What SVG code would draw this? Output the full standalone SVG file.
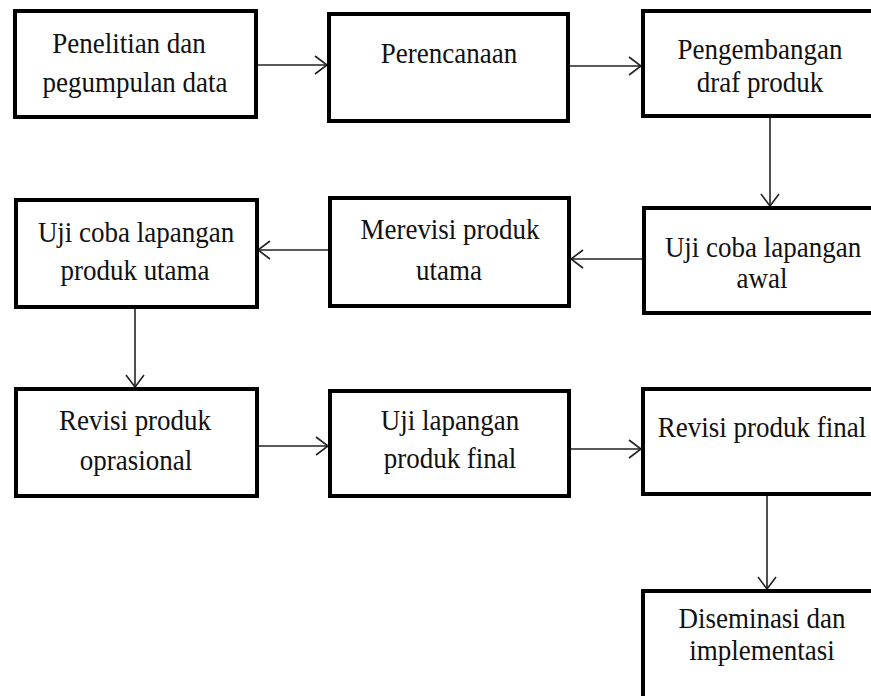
<svg xmlns="http://www.w3.org/2000/svg" width="871" height="696" viewBox="0 0 871 696">
<defs>
<style>
.box{fill:#fff;stroke:#000;stroke-width:4}
.t{font-family:"Liberation Serif","Times New Roman",serif;font-size:30px;fill:#111;text-anchor:middle}
.c{fill:none;stroke:#222;stroke-width:1.6}
</style>
<marker id="ah" viewBox="0 0 14 20" refX="13" refY="10" markerWidth="14" markerHeight="20" markerUnits="userSpaceOnUse" orient="auto">
<path d="M1,1 L13,10 L1,19" fill="none" stroke="#222" stroke-width="1.6"/>
</marker>
</defs>
<rect width="871" height="696" fill="#fff"/>
<g id="connectors">
<line class="c" x1="257" y1="65" x2="327" y2="65" marker-end="url(#ah)"/>
<line class="c" x1="570" y1="66" x2="641" y2="66" marker-end="url(#ah)"/>
<line class="c" x1="770" y1="117" x2="770" y2="206" marker-end="url(#ah)"/>
<line class="c" x1="642" y1="259" x2="571" y2="259" marker-end="url(#ah)"/>
<line class="c" x1="328" y1="250" x2="258" y2="250" marker-end="url(#ah)"/>
<line class="c" x1="135" y1="308" x2="135" y2="387" marker-end="url(#ah)"/>
<line class="c" x1="258" y1="446" x2="328" y2="446" marker-end="url(#ah)"/>
<line class="c" x1="571" y1="449" x2="641" y2="449" marker-end="url(#ah)"/>
<line class="c" x1="767" y1="496" x2="767" y2="589" marker-end="url(#ah)"/>
</g>
<g id="n1"><rect class="box" x="15" y="11" width="241" height="106"/>
<text class="t" transform="translate(129,53) scale(0.9,1)">Penelitian dan</text><text class="t" transform="translate(135,92) scale(0.9,1)">pegumpulan data</text></g>
<g id="n2"><rect class="box" x="329" y="14" width="239" height="107"/>
<text class="t" transform="translate(449,63) scale(0.9,1)">Perencanaan</text></g>
<g id="n3"><rect class="box" x="643" y="11" width="240" height="105"/>
<text class="t" transform="translate(760,59) scale(0.9,1)">Pengembangan</text><text class="t" transform="translate(760,92) scale(0.9,1)">draf produk</text></g>
<g id="n4"><rect class="box" x="16" y="200" width="241" height="107"/>
<text class="t" transform="translate(136,242) scale(0.9,1)">Uji coba lapangan</text><text class="t" transform="translate(135,280) scale(0.9,1)">produk utama</text></g>
<g id="n5"><rect class="box" x="330" y="198" width="239" height="108"/>
<text class="t" transform="translate(450,239) scale(0.9,1)">Merevisi produk</text><text class="t" transform="translate(449,280) scale(0.9,1)">utama</text></g>
<g id="n6"><rect class="box" x="644" y="208" width="240" height="105"/>
<text class="t" transform="translate(763,257) scale(0.9,1)">Uji coba lapangan</text><text class="t" transform="translate(762,288) scale(0.9,1)">awal</text></g>
<g id="n7"><rect class="box" x="16" y="389" width="241" height="107"/>
<text class="t" transform="translate(135,430) scale(0.9,1)">Revisi produk</text><text class="t" transform="translate(136,470) scale(0.9,1)">oprasional</text></g>
<g id="n8"><rect class="box" x="330" y="391" width="239" height="105"/>
<text class="t" transform="translate(450,430) scale(0.9,1)">Uji lapangan</text><text class="t" transform="translate(450,468) scale(0.9,1)">produk final</text></g>
<g id="n9"><rect class="box" x="643" y="389" width="240" height="105"/>
<text class="t" transform="translate(762,437) scale(0.9,1)">Revisi produk final</text></g>
<g id="n10"><rect class="box" x="643" y="591" width="240" height="115"/>
<text class="t" transform="translate(762,628) scale(0.9,1)">Diseminasi dan</text><text class="t" transform="translate(762,660) scale(0.9,1)">implementasi</text></g>
</svg>
